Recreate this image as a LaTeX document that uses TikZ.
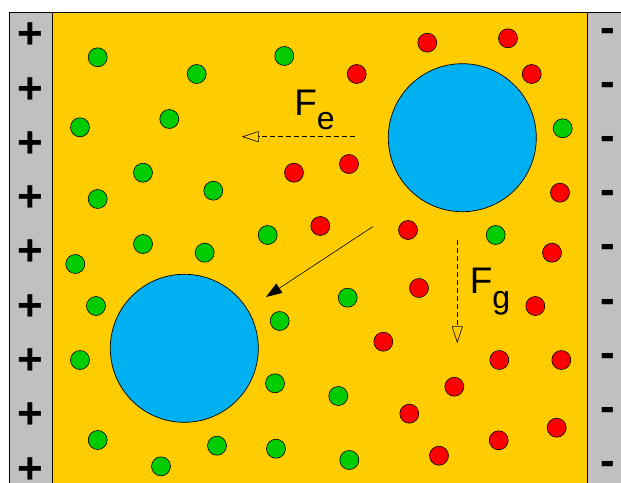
\documentclass[tikz,border=0pt]{standalone}
\usepackage{fontspec}
\setmainfont{Liberation Sans}
\usetikzlibrary{arrows.meta}
\definecolor{plategray}{RGB}{192,192,192}
\definecolor{oilyellow}{RGB}{255,204,0}
\definecolor{dropblue}{RGB}{0,176,240}
\definecolor{iongreen}{RGB}{0,204,0}
\definecolor{ionred}{RGB}{255,0,0}
\begin{document}
\begin{tikzpicture}[x=1pt, y=-1pt, line width=0.7pt, plate/.style={draw, fill=plategray}, medium/.style={draw, fill=oilyellow}, droplet/.style={circle, draw, fill=dropblue, minimum size=148pt, inner sep=0pt}, ion/.style={circle, draw, line width=0.6pt, minimum size=19pt, inner sep=0pt}, posion/.style={ion, fill=iongreen}, negion/.style={ion, fill=ionred}, sign/.style={font=\fontsize{44}{44}\selectfont\bfseries, inner sep=0pt, anchor=base}, force/.style={dash pattern=on 5pt off 3pt, -{Triangle[open, length=17pt, width=11pt]}, line width=0.6pt}, push/.style={-{Triangle[length=16pt, width=11pt]}, line width=0.6pt}, forcetext/.style={font=\fontsize{37}{40}\selectfont, inner sep=0pt, anchor=base west}]
\clip (0,0) rectangle (621,482);
\draw[medium] (52,12) rectangle (587,500);
\draw[plate] (9,12) rectangle (52,500);
\draw[plate] (587,12) rectangle (640,500);
\foreach \i in {0,...,8} \node[sign] (plus\i) at (30,48.7+54.3*\i) {+};
\foreach \i in {0,...,8} \node[sign] (minus\i) at (607.7,42+54.2*\i) {-};
\node[droplet] (upper drop) at (462.3,137.7) {};
\node[droplet] (lower drop) at (184.3,348.3) {};
\foreach \x/\y [count=\i] in {97.7/57.3, 196.7/74, 284.3/56, 80/127.3, 169.3/119, 143/172.7, 213.3/190.7, 97.7/199, 143/244, 267.7/235, 75.3/264, 204.7/252.7, 96/306, 279.7/321, 80/360, 275/383.3, 97.7/440, 217/445.7, 276/448.7, 161/466.3, 562.7/128.3, 495.7/235, 347.7/297.7, 338.3/396, 349.3/460}
  \node[posion] (green\i) at (\x,\y) {};
\foreach \x/\y [count=\i] in {294/172.7, 427.3/42.7, 508/38.3, 356.7/74, 531.7/74, 349/164, 560/192.7, 320.3/226, 408/230, 552/252.7, 419/288, 535.3/306, 383.3/341.7, 499.3/360, 561.3/360, 454.3/386.7, 409.3/413.7, 498.7/440.3, 556.7/427.7, 439/455.7}
  \node[negion] (red\i) at (\x,\y) {};
\coordinate (fe tail) at (355,136.7);
\coordinate (fe head) at (241.7,136.7);
\coordinate (fg tail) at (457.3,240);
\coordinate (fg head) at (457.3,343.3);
\coordinate (push tail) at (372.7,226.7);
\coordinate (push head) at (266,297);
\draw[force] (fe tail) -- (fe head);
\draw[force] (fg tail) -- (fg head);
\draw[push] (push tail) -- (push head);
\node[forcetext] (fe label) at (294,115) {F\raisebox{-14pt}{\fontsize{32}{32}\selectfont e}};
\node[forcetext] (fg label) at (469.5,293.3) {F\raisebox{-15pt}{\fontsize{32}{32}\selectfont g}};
\end{tikzpicture}
\end{document}
